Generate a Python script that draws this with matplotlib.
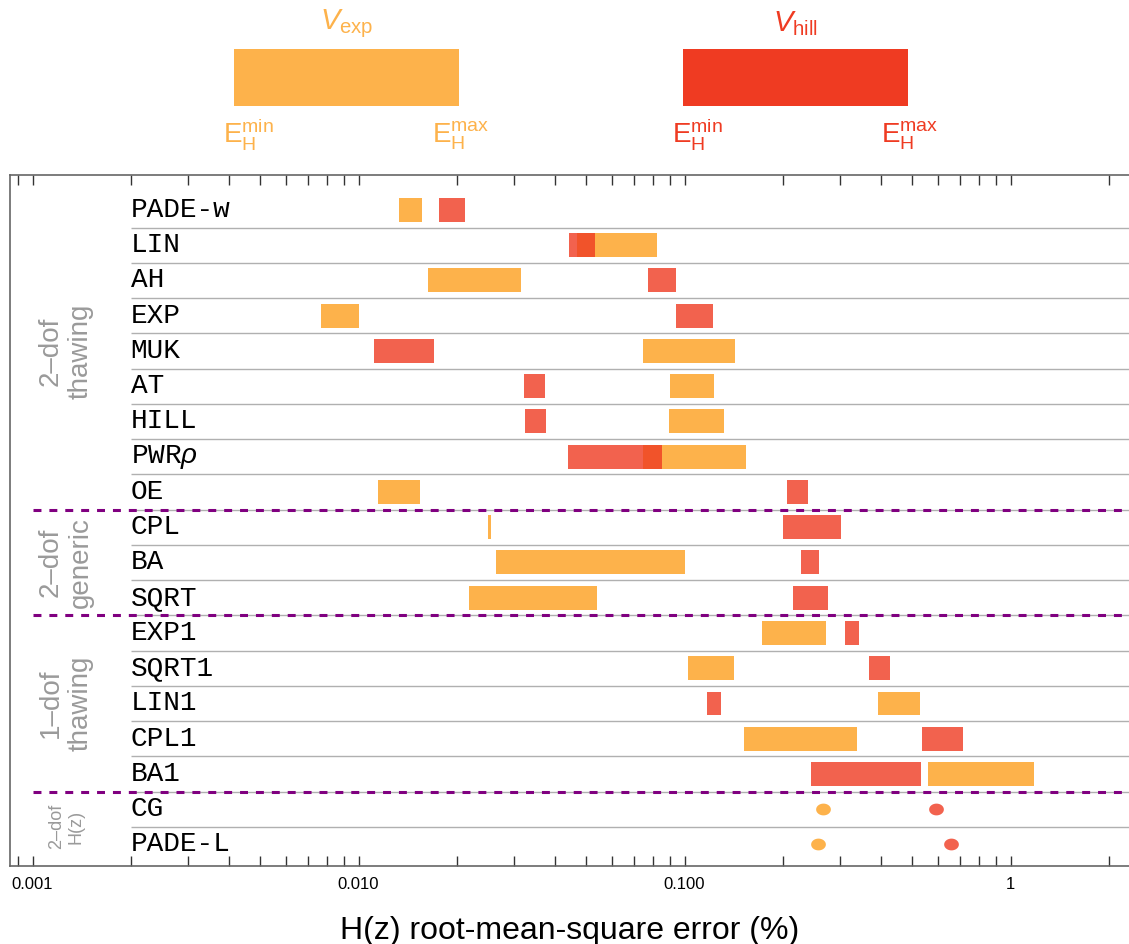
import matplotlib
matplotlib.use('Agg')
import matplotlib.pyplot as plt
import matplotlib.transforms as mtransforms
import numpy as np
from matplotlib.patches import Rectangle
from matplotlib.path import Path
from matplotlib.ticker import LogLocator, NullFormatter, FixedLocator, FixedFormatter

plt.rcParams['font.family'] = ['Liberation Sans', 'DejaVu Sans']
plt.rcParams['mathtext.fontset'] = 'custom'
plt.rcParams['mathtext.rm'] = 'Liberation Sans'
plt.rcParams['mathtext.it'] = 'Liberation Sans:italic'
plt.rcParams['mathtext.bf'] = 'Liberation Sans:bold'

# ---------------- data ----------------
models = ['PADE-w', 'LIN', 'AH', 'EXP', 'MUK', 'AT', 'HILL', 'PWR$\\rho$', 'OE',
          'CPL', 'BA', 'SQRT',
          'EXP1', 'SQRT1', 'LIN1', 'CPL1', 'BA1',
          'CG', 'PADE-L']
exp_min = [0.01331, 0.04680, 0.01633, 0.007674, 0.07459, 0.09026, 0.08962, 0.07459, 0.01148,
           0.02495, 0.02641, 0.02183,
           0.1729, 0.1025, 0.3923, 0.1522, 0.5582,
           0.2660, 0.2567]
exp_max = [0.01566, 0.0823, 0.03151, 0.01003, 0.1428, 0.1231, 0.1322, 0.1544, 0.01544,
           0.02549, 0.1004, 0.05388,
           0.2716, 0.1418, 0.5277, 0.3381, 1.181,
           0.2660, 0.2567]
hill_min = [0.01766, 0.04421, 0.07727, 0.0942, 0.01115, 0.03219, 0.03242, 0.04390, 0.2063,
            0.2005, 0.2277, 0.2152,
            0.3106, 0.3681, 0.1172, 0.5352, 0.2443,
            0.5908, 0.6571]
hill_max = [0.02122, 0.05313, 0.0942, 0.1223, 0.01705, 0.03734, 0.03760, 0.08531, 0.2392,
            0.3020, 0.2586, 0.2755,
            0.3429, 0.4270, 0.1294, 0.7150, 0.5314,
            0.5908, 0.6571]
groups = ['2\u2013dof\nthawing', '2\u2013dof\ngeneric', '1\u2013dof\nthawing', '2\u2013dof\nH(z)']
group_rows = [(0, 8), (9, 11), (12, 16), (17, 18)]
xticks = [0.001, 0.01, 0.1, 1]
xticklabels = ['0.001', '0.010', '0.100', '1']

ORANGE = '#FDB24B'
RED = '#EF3B22'
PURPLE = '#800080'
GRAYTXT = '#9a9a9a'

W, H = 1129, 944
fig = plt.figure(figsize=(W / 100, H / 100), dpi=100)
ax = fig.add_axes([10 / W, 1 - 866 / H, 1 - 10 / W, (866 - 174.7) / H])

xmin, xmax = 8.53e-4, 2.309
ax.set_xscale('log')
ax.set_xlim(xmin, xmax)
n = len(models)
ax.set_ylim(18.61, -1.0)

y = np.arange(n)
emin = np.array(exp_min); emax = np.array(exp_max)
hmin = np.array(hill_min); hmax = np.array(hill_max)
bar_mask_e = emax > emin
bar_mask_h = hmax > hmin
bh = 0.68
ax.barh(y[bar_mask_e], (emax - emin)[bar_mask_e], left=emin[bar_mask_e], height=bh,
        color=ORANGE, lw=0, zorder=3)
ax.barh(y[bar_mask_h], (hmax - hmin)[bar_mask_h], left=hmin[bar_mask_h], height=bh,
        color=RED, alpha=0.8, lw=0, zorder=4)

t = np.linspace(0, 2 * np.pi, 60)
ell = Path(np.column_stack([np.cos(t), 0.8 * np.sin(t)]), closed=True)
ax.plot(emin[~bar_mask_e], y[~bar_mask_e], ls='none', marker=ell, ms=10.6,
        mfc=ORANGE, mec='none', zorder=3)
ax.plot(hmin[~bar_mask_h], y[~bar_mask_h], ls='none', marker=ell, ms=10.6,
        mfc=RED, mec='none', alpha=0.8, zorder=4)

# separators
for i in range(n - 1):
    ax.plot([0.002, xmax], [i + 0.5, i + 0.5], color='#b0b0b0', lw=1.0, zorder=1,
            solid_capstyle='butt')
for g0, g1 in group_rows[:-1]:
    ax.plot([0.001, xmax], [g1 + 0.5, g1 + 0.5], color=PURPLE, lw=2.2,
            ls=(0, (2.6, 2.6)), zorder=2)

# row labels
for i, m in enumerate(models):
    ax.text(0.002, i, m, family='Liberation Mono', fontsize=20, ha='left', va='center',
            color='black', zorder=5)

# group labels
btr = mtransforms.blended_transform_factory(ax.transAxes, ax.transData)
for (g0, g1), g in zip(group_rows, groups):
    fs = 13 if g1 - g0 < 2 else 20
    ax.text(0.05, (g0 + g1) / 2, g, transform=btr,
            rotation=90, ha='center', va='center', multialignment='center',
            fontsize=fs, color=GRAYTXT, linespacing=1.2)

# axes styling
ax.xaxis.set_major_locator(FixedLocator(xticks))
ax.xaxis.set_major_formatter(FixedFormatter(xticklabels))
ax.xaxis.set_minor_locator(LogLocator(base=10, subs=np.arange(2, 10)))
ax.xaxis.set_minor_formatter(NullFormatter())
ax.tick_params(axis='x', which='both', direction='in', top=True, bottom=True,
               length=7.5, width=1, color='#333333', labelsize=12, pad=8)
ax.tick_params(axis='y', left=False, labelleft=False)
for s in ['top', 'bottom', 'left']:
    ax.spines[s].set_color('#666666')
    ax.spines[s].set_linewidth(1.2)
ax.spines['right'].set_visible(False)
ax.set_xlabel('H(z) root-mean-square error (%)', fontsize=23, labelpad=17)

# legend overlay (pixel coordinates)
lax = fig.add_axes([0, 0, 1, 1])
lax.set_xlim(0, W); lax.set_ylim(H, 0); lax.axis('off')
for x0, col, name in [(234, ORANGE, 'exp'), (683, RED, 'hill')]:
    lax.add_patch(Rectangle((x0, 49), 225, 57, color=col, lw=0))
    lax.text(x0 + 112.5, 24, r'$V_{\mathrm{%s}}$' % name, color=col, fontsize=21,
             ha='center', va='center')
    lax.text(x0 - 11, 143, r'$\mathrm{E}_{\mathrm{H}}^{\mathrm{min}}$', color=col,
             fontsize=20, ha='left', va='baseline')
    lax.text(x0 + 198, 143, r'$\mathrm{E}_{\mathrm{H}}^{\mathrm{max}}$', color=col,
             fontsize=20, ha='left', va='baseline')

fig.savefig('out.png', dpi=100)
